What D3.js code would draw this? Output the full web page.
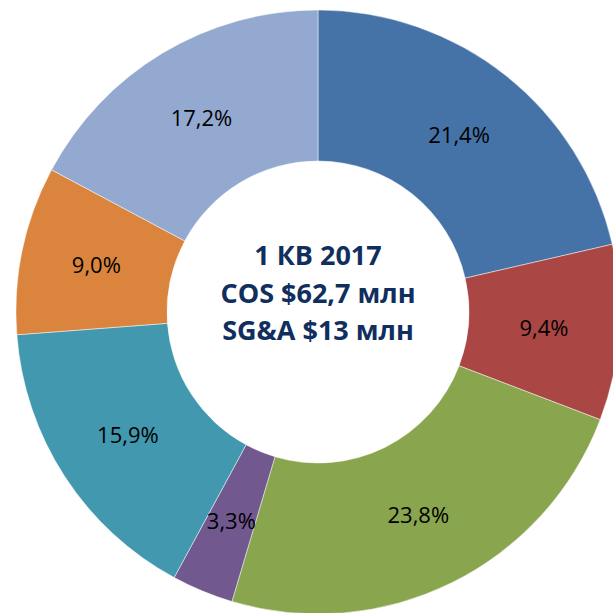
<!DOCTYPE html>
<html>
<head>
<meta charset="utf-8">
<script src="https://cdn.jsdelivr.net/npm/d3@7"></script>
<style>
  html, body { margin: 0; padding: 0; background: #fff; }
  svg { display: block; }
</style>
</head>
<body>
<svg id="chart" width="613" height="613"></svg>
<script>
// shares of costs, clockwise from 12 o'clock
var shares = [21.4, 9.4, 23.8, 3.3, 15.9, 9.0, 17.2];
var shareLabels = ['21,4%', '9,4%', '23,8%', '3,3%', '15,9%', '9,0%', '17,2%'];
var sliceColors = ['#4673a7', '#aa4644', '#89a54e', '#71588f', '#4298af', '#db843d', '#93a9cf'];
var centerLines = ['1 КВ 2017', 'COS $62,7 млн', 'SG&A $13 млн'];

var svg = d3.select('#chart');
var cx = 318, cy = 312;
var outerR = 302, innerR = 151;

var g = svg.append('g').attr('transform', 'translate(' + cx + ',' + cy + ')');

var pie = d3.pie().sort(null).value(function (d) { return d; });
var arc = d3.arc().innerRadius(innerR).outerRadius(outerR);
var labelArc = d3.arc().innerRadius(innerR).outerRadius(outerR);

var arcs = pie(shares);

g.selectAll('path.slice')
    .data(arcs)
    .enter().append('path')
    .attr('class', 'slice')
    .attr('d', arc)
    .attr('fill', function (d, i) { return sliceColors[i]; })
    .attr('stroke', '#ffffff')
    .attr('stroke-opacity', 0.6)
    .attr('stroke-width', 0.8);

g.selectAll('text.pct')
    .data(arcs)
    .enter().append('text')
    .attr('class', 'pct')
    .attr('transform', function (d) { return 'translate(' + labelArc.centroid(d) + ')'; })
    .attr('text-anchor', 'middle')
    .attr('dy', '0.36em')
    .attr('font-family', 'Open Sans, sans-serif')
    .attr('font-size', 22)
    .attr('fill', '#000')
    .text(function (d, i) { return shareLabels[i]; });

g.selectAll('text.center')
    .data(centerLines)
    .enter().append('text')
    .attr('class', 'center')
    .attr('x', 0)
    .attr('y', function (d, i) { return -47 + i * 37.5; })
    .attr('text-anchor', 'middle')
    .attr('font-family', 'Open Sans, sans-serif')
    .attr('font-weight', 'bold')
    .attr('font-size', 27)
    .attr('fill', '#112f5e')
    .text(function (d) { return d; });
</script>
</body>
</html>
